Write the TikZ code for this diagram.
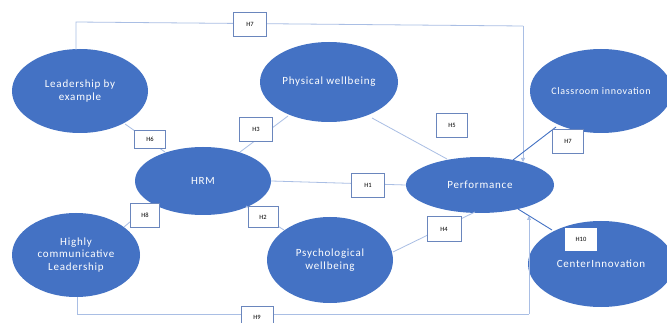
\documentclass[tikz,border=0pt]{standalone}
\usepackage{fontspec}
\setmainfont{Carlito}
\newfontfamily\ellfont[LetterSpace=7]{Carlito}
\usetikzlibrary{arrows.meta,shapes.geometric}
\definecolor{ellblue}{HTML}{4472C4}
\definecolor{lineblue}{HTML}{A9BEE4}
\definecolor{boxblue}{HTML}{6A86BD}
\tikzset{
  ell/.style={ellipse, fill=ellblue, draw=none, text=white, align=center,
    font=\ellfont\fontsize{11}{12.5}\selectfont, inner sep=0pt},
  hbox/.style={draw=boxblue, line width=0.9pt, fill=white, minimum width=31pt,
    minimum height=22pt, font=\fontsize{6.5}{7}\selectfont, inner sep=0pt},
  lite/.style={draw=lineblue, line width=0.8pt},
  dark/.style={draw=ellblue, line width=0.9pt},
  tip/.style={-{Triangle[length=4pt,width=4pt]}},
}
\begin{document}
\begin{tikzpicture}[x=1pt,y=-1pt]
\useasboundingbox[fill=white] (0,0) rectangle (667,323);
% ellipses
\node[ell, minimum width=136pt, minimum height=84pt] (lbe) at (80,91) {Leadership by\\example};
\node[ell, minimum width=138pt, minimum height=80pt] (phy) at (329,82) {Physical wellbeing};
\node[ell, minimum width=142pt, minimum height=84pt] (cla) at (601,91) {\fontsize{10}{11}\selectfont Classroom innovation};
\node[ell, minimum width=136pt, minimum height=68pt] (hrm) at (203,181) {HRM};
\node[ell, minimum width=148pt, minimum height=56pt] (perf) at (480,185) {Performance};
\node[ell, minimum width=128pt, minimum height=84pt] (hcl) at (76,255) {Highly\\communicative\\Leadership};
\node[ell, minimum width=126pt, minimum height=86pt] (psy) at (330,260) {Psychological\\wellbeing};
\node[ell, minimum width=146pt, minimum height=86pt] (cen) at (601,264) {CenterInnovation};
% coordinates
\coordinate (lbeTop) at (76,50);
\coordinate (tl) at (76,22);
\coordinate (tr) at (523,26);
\coordinate (perfTop) at (523,162);
\coordinate (hclBot) at (77,297);
\coordinate (bl) at (77,314);
\coordinate (br) at (529,314);
\coordinate (perfBot) at (529,216);
% connectors
\draw[lite] (lbeTop) -- (tl) -- (tr);
\draw[lite, tip] (tr) -- (perfTop);
\draw[lite] (hclBot) -- (bl) -- (br);
\draw[lite, tip] (br) -- (perfBot);
\coordinate (a1) at (125,124); \coordinate (a2) at (165,152);
\draw[lite] (a1) -- (a2);
\coordinate (b1) at (288,116); \coordinate (b2) at (240,152);
\draw[lite] (b1) -- (b2);
\draw[lite] (hrm.east) -- (perf.west);
\coordinate (c1) at (372,118); \coordinate (c2) at (447,159);
\draw[lite] (c1) -- (c2);
\coordinate (d1) at (246,206); \coordinate (d2) at (284,230);
\draw[lite] (d1) -- (d2);
\coordinate (e1) at (124,227); \coordinate (e2) at (150,205);
\draw[lite] (e1) -- (e2);
\coordinate (f1) at (393,252); \coordinate (f2) at (475,212);
\draw[lite] (f1) -- (f2);
\coordinate (g1) at (556,127); \coordinate (g2) at (513,160);
\draw[dark] (g1) -- (g2);
\coordinate (k1) at (552,230); \coordinate (k2) at (518,209);
\draw[dark] (k1) -- (k2);
% boxes
\node[hbox, minimum height=24pt, minimum width=33pt] (h7t) at (250,24) {H7};
\node[hbox, minimum height=18pt] (h6) at (150,139) {H6};
\node[hbox, minimum height=24pt, minimum width=33pt] (h3) at (256,129) {H3};
\node[hbox, minimum height=24pt] (h5) at (452,125) {H5};
\node[hbox, minimum height=24pt] (h7r) at (568,141) {H7};
\node[hbox, minimum height=24pt, minimum width=29pt] (h8) at (145,215) {H8};
\node[hbox, minimum height=21pt, minimum width=30pt] (h2) at (263,217) {H2};
\node[hbox, minimum height=22pt, minimum width=32pt] (h9) at (257,317) {H9};
\node[hbox, minimum height=24pt, minimum width=33pt] (h1) at (368,185) {H1};
\node[hbox, minimum height=25pt, minimum width=34pt] (h4) at (444,229) {H4};
\node[hbox, draw=white, minimum height=22pt, minimum width=31pt] (h10) at (581,239) {H10};
\end{tikzpicture}
\end{document}
